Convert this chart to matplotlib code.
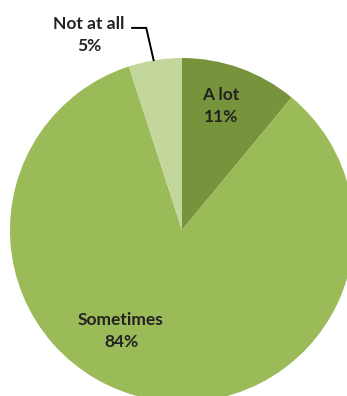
import matplotlib
matplotlib.use("Agg")
import matplotlib.pyplot as plt

categories = ["A lot", "Sometimes", "Not at all"]
shares = [11, 84, 5]
colors = ["#77933C", "#9BBB59", "#C3D69B"]

fig = plt.figure(figsize=(3.47, 3.96), dpi=100)
ax = fig.add_axes([0.0288, -0.0152, 0.9914, 0.8687])
ax.pie(shares, colors=colors, startangle=90, counterclock=False, radius=1.0,
       wedgeprops=dict(edgecolor="none"))
ax.set_xlim(-1, 1)
ax.set_ylim(-1, 1)
ax.set_aspect("equal")

font = dict(family=["Lato", "DejaVu Sans"], fontsize=12.5, fontweight="bold",
            color="#222222", ha="center", va="center", linespacing=1.4)

ax.text(0.227, 0.721, f"{categories[0]}\n{shares[0]}%", **font)
ax.text(-0.355, -0.587, f"{categories[1]}\n{shares[1]}%", **font)
ax.text(-0.541, 1.134, f"{categories[2]}\n{shares[2]}%", clip_on=False, **font)
ax.plot([-0.29, -0.208, -0.165], [1.175, 1.175, 0.988], color="#000000", lw=1.4,
        clip_on=False, solid_joinstyle="miter")

fig.savefig("out.png", dpi=100, facecolor="white")
